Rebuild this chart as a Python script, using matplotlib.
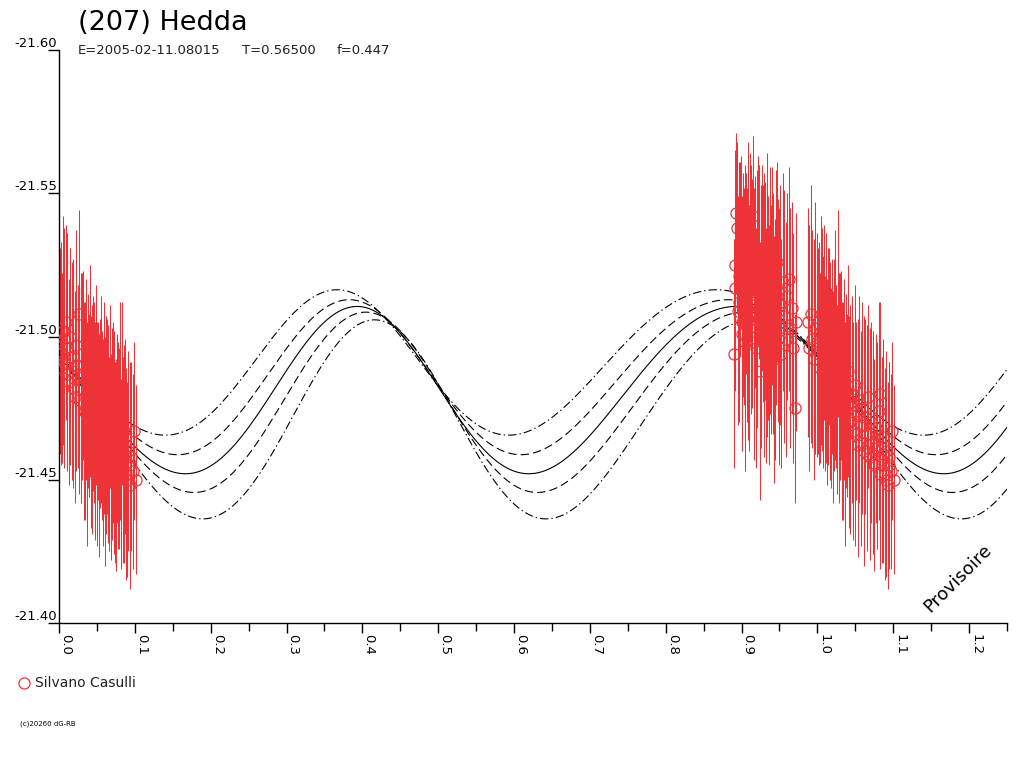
import numpy as np
import matplotlib
matplotlib.use("Agg")
import matplotlib.pyplot as plt
from matplotlib.ticker import MultipleLocator, FormatStrFormatter

plt.rcParams['font.family'] = ['DejaVu Sans']
plt.rcParams['lines.scale_dashes'] = False

RED = '#ee3338'

TITLE = "(207) Hedda"
SUB = ["E=2005-02-11.08015", "T=0.56500", "f=0.447"]
OBSERVER = "Silvano Casulli"

# observations (phase, reduced magnitude, error), first sequence
phase_a = [0.890, 0.891, 0.893, 0.894, 0.896, 0.897, 0.899, 0.900, 0.902, 0.904,
           0.905, 0.907, 0.909, 0.910, 0.912, 0.914, 0.915, 0.917, 0.919, 0.920,
           0.922, 0.924, 0.926, 0.927, 0.929, 0.931, 0.933, 0.934, 0.936, 0.938,
           0.940, 0.942, 0.943, 0.945, 0.947, 0.949, 0.951, 0.952, 0.954, 0.956,
           0.958, 0.960, 0.962, 0.964, 0.966, 0.968, 0.970, 0.972]
mag_a = [-21.494, -21.525, -21.543, -21.538, -21.521, -21.512, -21.533, -21.505, -21.518, -21.498,
         -21.527, -21.511, -21.540, -21.503, -21.522, -21.515, -21.542, -21.508, -21.496, -21.519,
         -21.530, -21.488, -21.512, -21.524, -21.501, -21.516, -21.509, -21.534, -21.497, -21.513,
         -21.521, -21.505, -21.492, -21.517, -21.526, -21.500, -21.511, -21.494, -21.519, -21.507,
         -21.499, -21.514, -21.520, -21.503, -21.510, -21.496, -21.475, -21.505]
err_a = [0.040, 0.040, 0.028, 0.030, 0.040, 0.042, 0.030, 0.044, 0.039, 0.045,
         0.033, 0.041, 0.028, 0.043, 0.038, 0.040, 0.028, 0.044, 0.042, 0.039,
         0.033, 0.045, 0.041, 0.036, 0.043, 0.038, 0.044, 0.030, 0.042, 0.040,
         0.038, 0.039, 0.043, 0.041, 0.035, 0.045, 0.042, 0.040, 0.038, 0.044,
         0.041, 0.036, 0.039, 0.042, 0.037, 0.040, 0.033, 0.038]

phase_b = [0.987, 0.989, 0.991, 0.993, 0.995, 0.997, 0.999]
mag_b = [-21.505, -21.496, -21.508, -21.499, -21.492, -21.503, -21.497]
err_b = [0.040, 0.043, 0.045, 0.038, 0.042, 0.044, 0.039]

phase_c = [0.000, 0.002, 0.004, 0.005, 0.007, 0.009, 0.011, 0.013, 0.015, 0.017,
           0.019, 0.021, 0.023, 0.025, 0.027, 0.029, 0.031, 0.033, 0.035, 0.037,
           0.039, 0.041, 0.043, 0.045, 0.047, 0.049, 0.051, 0.053, 0.055, 0.057,
           0.059, 0.061, 0.063, 0.065, 0.067, 0.069, 0.071, 0.073, 0.075, 0.077,
           0.079, 0.081, 0.083, 0.085, 0.087, 0.089, 0.091, 0.093, 0.095, 0.097,
           0.099, 0.101]
mag_c = [-21.498, -21.494, -21.489, -21.502, -21.491, -21.505, -21.496, -21.484, -21.500, -21.488,
         -21.493, -21.479, -21.497, -21.486, -21.508, -21.482, -21.490, -21.474, -21.485, -21.466,
         -21.476, -21.488, -21.471, -21.480, -21.467, -21.483, -21.474, -21.462, -21.478, -21.469,
         -21.475, -21.460, -21.472, -21.466, -21.479, -21.458, -21.470, -21.463, -21.455, -21.468,
         -21.461, -21.474, -21.480, -21.457, -21.465, -21.452, -21.460, -21.448, -21.458, -21.453,
         -21.467, -21.450]
err_c = [0.036, 0.039, 0.033, 0.040, 0.037, 0.034, 0.040, 0.036, 0.031, 0.038,
         0.034, 0.037, 0.040, 0.032, 0.036, 0.040, 0.033, 0.038, 0.035, 0.039,
         0.032, 0.037, 0.040, 0.034, 0.038, 0.035, 0.031, 0.039, 0.036, 0.033,
         0.037, 0.040, 0.034, 0.038, 0.032, 0.036, 0.035, 0.039, 0.037, 0.033,
         0.035, 0.038, 0.032, 0.036, 0.034, 0.037, 0.035, 0.036, 0.033, 0.034,
         0.031, 0.033]

# second sequence
phase_d = [0.892, 0.895, 0.898, 0.901, 0.903, 0.906, 0.908, 0.911, 0.913, 0.916,
           0.918, 0.921, 0.923, 0.925, 0.928, 0.930, 0.932, 0.935, 0.937, 0.939,
           0.941, 0.944, 0.946, 0.948]
mag_d = [-21.517, -21.509, -21.527, -21.501, -21.514, -21.522, -21.506, -21.531, -21.512, -21.498,
         -21.519, -21.508, -21.526, -21.503, -21.515, -21.521, -21.497, -21.510, -21.524, -21.506,
         -21.513, -21.499, -21.518, -21.509]
err_d = [0.036, 0.040, 0.034, 0.041, 0.038, 0.035, 0.042, 0.033, 0.039, 0.041,
         0.037, 0.040, 0.034, 0.042, 0.038, 0.036, 0.041, 0.039, 0.035, 0.040,
         0.037, 0.042, 0.036, 0.039]

phase_e = [0.001, 0.006, 0.010, 0.014, 0.018, 0.022, 0.026, 0.030, 0.034, 0.038,
           0.042, 0.046, 0.050, 0.054, 0.058, 0.062, 0.066, 0.070, 0.074, 0.078,
           0.082, 0.086, 0.090, 0.094]
mag_e = [-21.495, -21.499, -21.487, -21.493, -21.482, -21.490, -21.478, -21.486, -21.474, -21.481,
         -21.470, -21.477, -21.466, -21.473, -21.463, -21.469, -21.459, -21.466, -21.456, -21.462,
         -21.452, -21.459, -21.450, -21.455]
err_e = [0.036, 0.039, 0.034, 0.038, 0.035, 0.037, 0.033, 0.036, 0.038, 0.034,
         0.037, 0.035, 0.039, 0.033, 0.036, 0.038, 0.034, 0.037, 0.035, 0.036,
         0.033, 0.038, 0.034, 0.036]

# fitted curves: mean, amplitude, phase of maximum
curve_m0 = [-21.49094, -21.48579, -21.48129, -21.47703, -21.47108]
curve_amp = [0.02538, 0.02705, 0.02920, 0.03147, 0.03474]
curve_pmax = [0.3666, 0.3828, 0.3930, 0.4045, 0.4160]
curve_style = [(0, (6, 2.2, 1, 2.2)), (0, (6, 3)), '-', (0, (6, 3)), (0, (6, 2.2, 1, 2.2))]
SKEW = 0.3

phase = np.array(phase_a + phase_b + phase_c + phase_d + phase_e)
mag = np.array(mag_a + mag_b + mag_c + mag_d + mag_e)
err = np.array(err_a + err_b + err_c + err_d + err_e)

fig = plt.figure(figsize=(10.24, 7.68), dpi=100)
ax = fig.add_axes([59 / 1024, 1 - 623 / 768, 948 / 1024, 573 / 768])

xx = np.linspace(0, 1.25, 800)
for m0, amp, pm, ls in zip(curve_m0, curve_amp, curve_pmax, curve_style):
    u = xx - pm
    yy = m0 - amp * np.cos(4 * np.pi * u + SKEW * np.sin(2 * np.pi * u))
    ax.plot(xx, yy, color='black', lw=0.8, linestyle=ls, zorder=1)

for shift in (0.0, 1.0):
    p = phase + shift
    keep = p <= 1.25
    ax.errorbar(p[keep], mag[keep], yerr=err[keep], fmt='none', ecolor=RED,
                elinewidth=0.75, capsize=0, zorder=2)
    ax.plot(p[keep], mag[keep], 'o', mfc='none', mec=RED, ms=8, mew=0.9, zorder=3)

ax.set_xlim(0, 1.25)
ax.set_ylim(-21.40, -21.60)
for side in ('top', 'right'):
    ax.spines[side].set_visible(False)
for side in ('left', 'bottom'):
    ax.spines[side].set_linewidth(1.0)

ax.xaxis.set_major_locator(MultipleLocator(0.1))
ax.xaxis.set_minor_locator(MultipleLocator(0.05))
ax.xaxis.set_major_formatter(FormatStrFormatter('%.1f'))
ax.tick_params(axis='x', which='major', length=7.2, width=1.0, pad=0.5, labelsize=9.5)
ax.tick_params(axis='x', which='minor', length=5.5, width=1.0)
for lab in ax.get_xticklabels():
    lab.set_rotation(-90)
    lab.set_ha('left')
    lab.set_va('top')

ax.yaxis.set_major_locator(MultipleLocator(0.05))
ax.yaxis.set_major_formatter(FormatStrFormatter('%.2f'))
ax.tick_params(axis='y', which='major', length=8, width=1.0, pad=-6.5, labelsize=9.5)
for lab in ax.get_yticklabels():
    lab.set_va('bottom')

fig.text(78 / 1024, 1 - 29.5 / 768, TITLE, fontsize=19.5, va='baseline')
for xpos, s in zip([78, 242, 337], SUB):
    fig.text(xpos / 1024, 1 - 54 / 768, s, fontsize=9.5, va='baseline', color='#222222')

fig.text(958 / 1024, 1 - 578 / 768, "Provisoire", fontsize=13, rotation=45,
         ha='center', va='center')

ax.plot([24 / 1024], [1 - 683 / 768], 'o', mfc='none', mec=RED, ms=8, mew=0.9,
        transform=fig.transFigure, clip_on=False)
fig.text(35 / 1024, 1 - 683 / 768, OBSERVER, fontsize=10, va='center', color='#222222')
fig.text(20 / 1024, 1 - 724 / 768, "(c)20260 dG-RB", fontsize=5, va='center')

fig.savefig("out.png", dpi=100)
